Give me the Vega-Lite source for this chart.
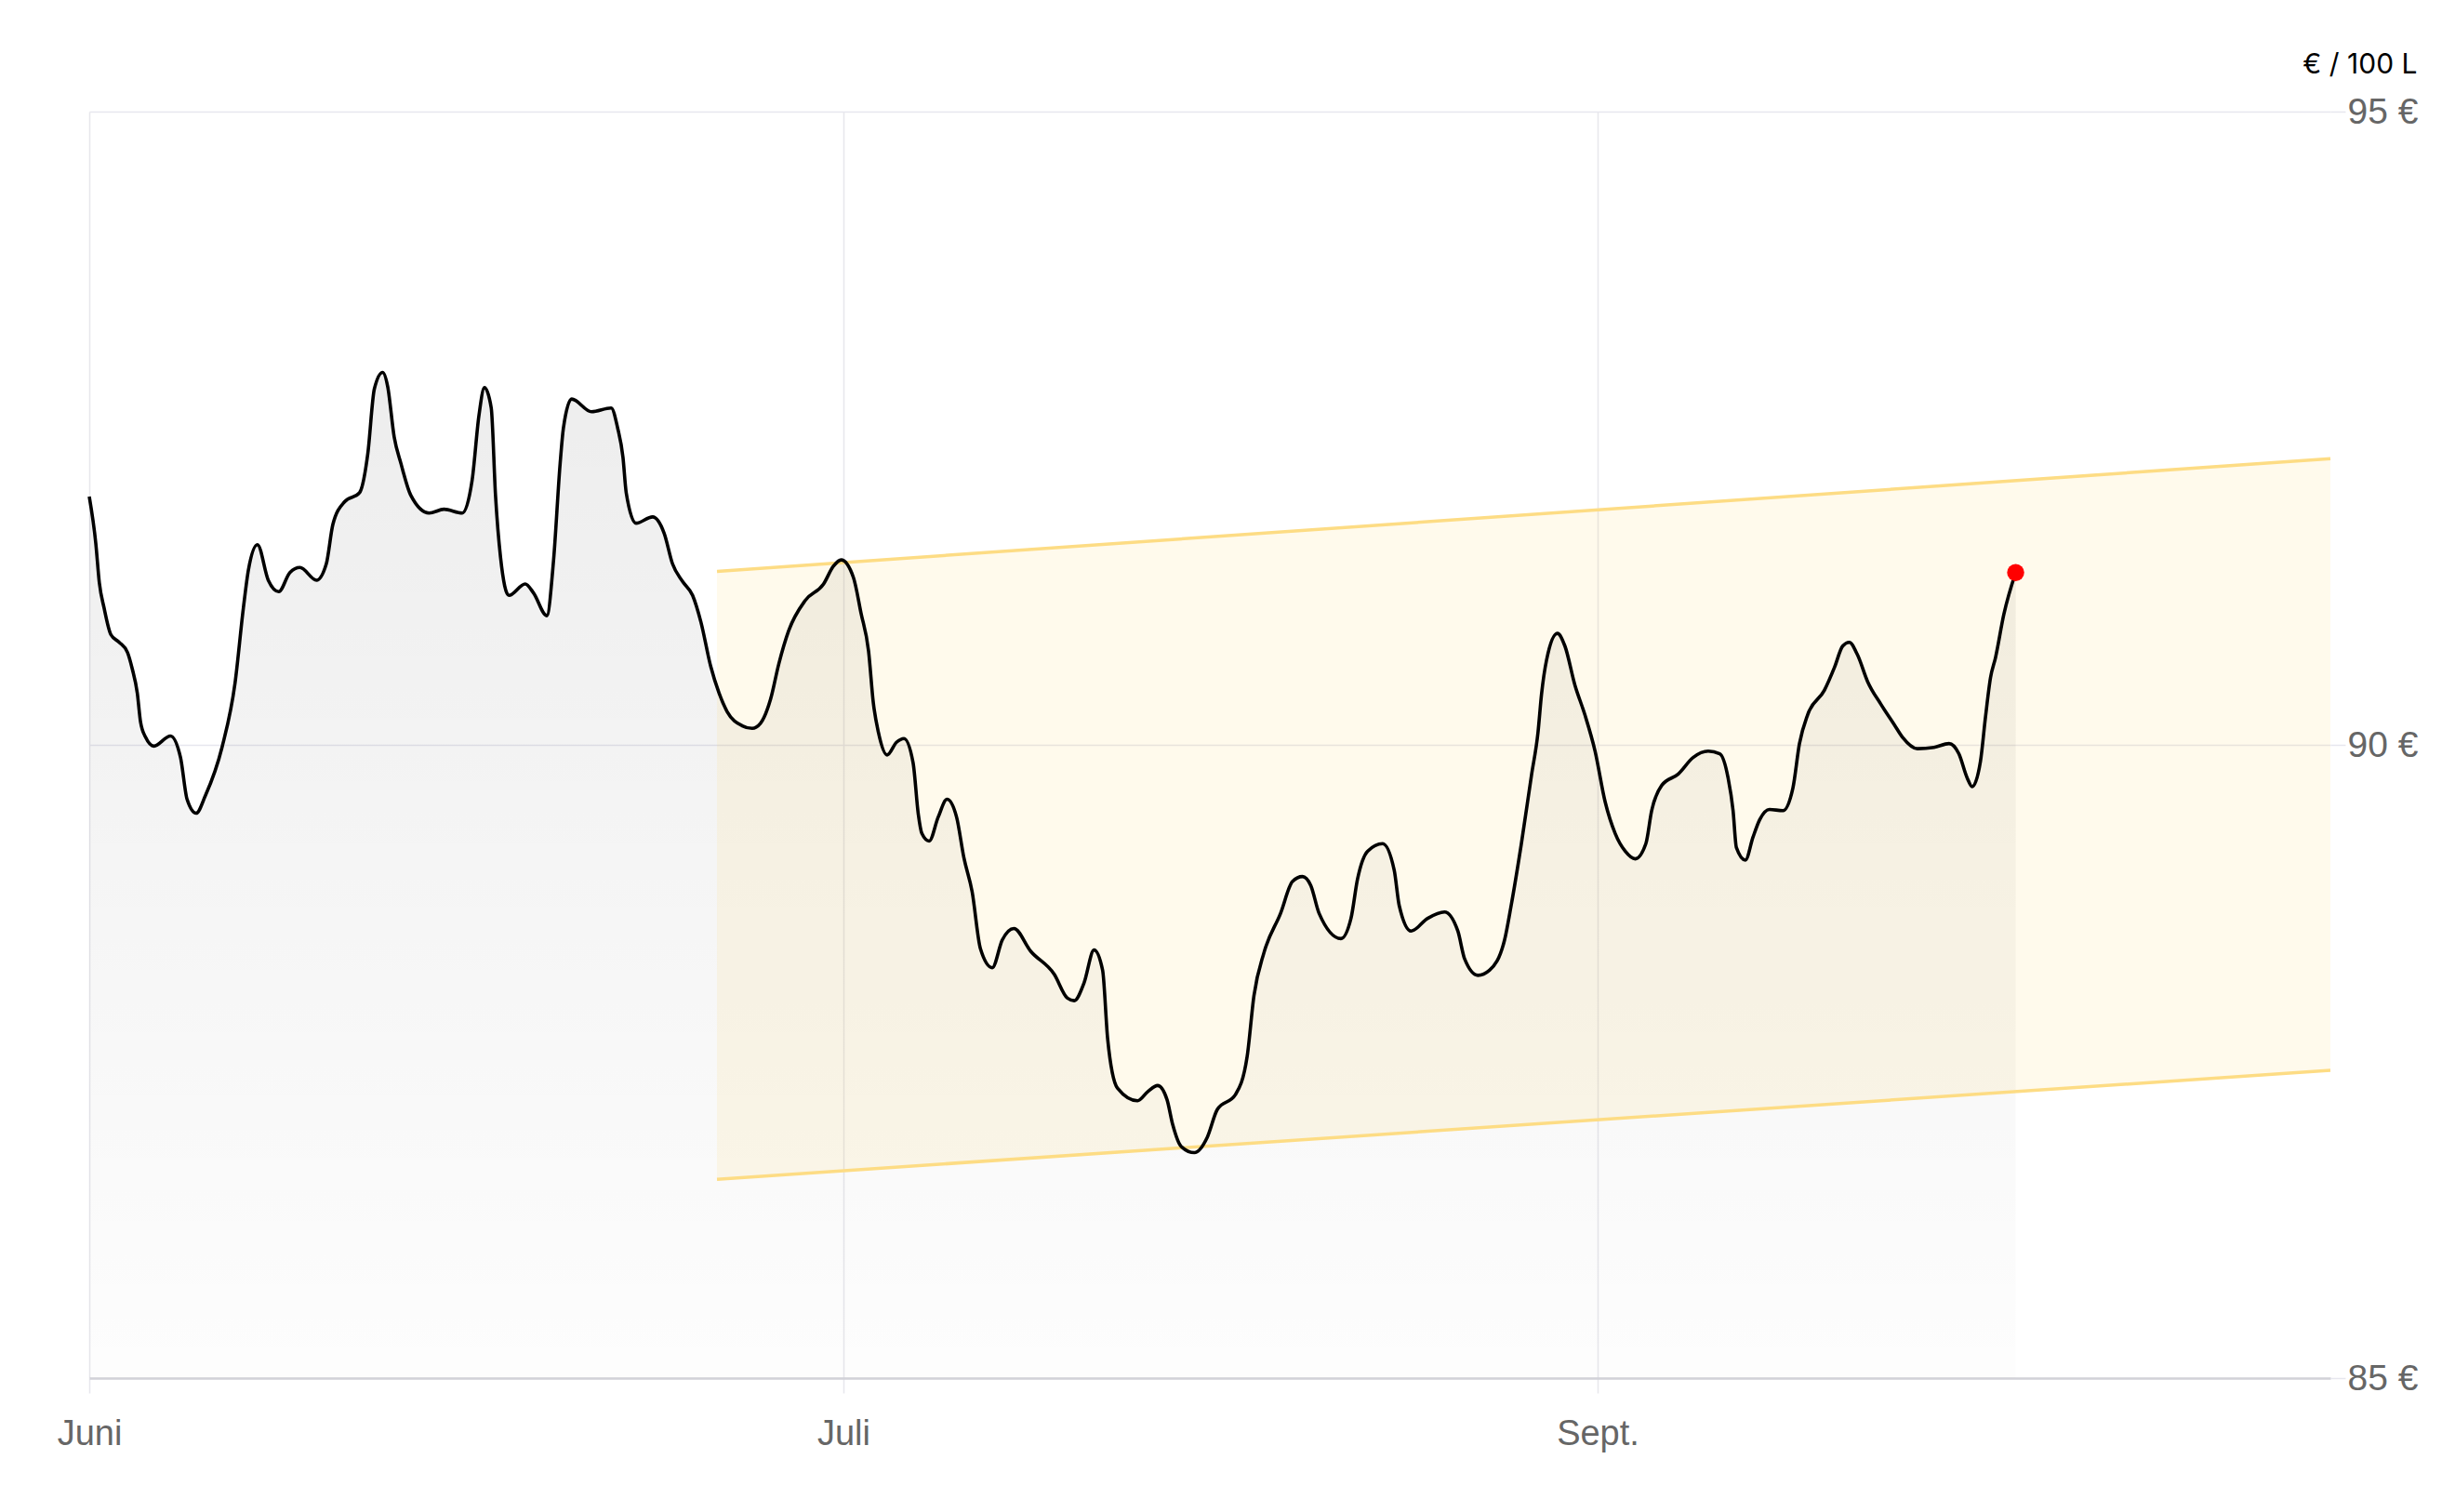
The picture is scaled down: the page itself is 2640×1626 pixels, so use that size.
{
  "$schema": "https://vega.github.io/schema/vega-lite/v6.json",
  "width": 2410,
  "height": 1362,
  "autosize": {"type": "none"},
  "padding": {"left": 96, "top": 120, "right": 134, "bottom": 144},
  "background": "white",
  "config": {"view": {"stroke": null}},
  "datasets": {
    "price": [
      {"t": 0, "v": 91.96}, {"t": 0.26, "v": 91.59}, {"t": 0.4, "v": 91.28}, {"t": 0.59, "v": 91.08},
      {"t": 0.86, "v": 90.87}, {"t": 1.19, "v": 90.81}, {"t": 1.52, "v": 90.73}, {"t": 1.71, "v": 90.6},
      {"t": 1.91, "v": 90.41}, {"t": 2.04, "v": 90.18}, {"t": 2.24, "v": 90.06}, {"t": 2.57, "v": 89.99},
      {"t": 3.23, "v": 90.07}, {"t": 3.63, "v": 89.9}, {"t": 3.89, "v": 89.57}, {"t": 4.25, "v": 89.46},
      {"t": 4.62, "v": 89.6}, {"t": 5.28, "v": 89.98}, {"t": 5.8, "v": 90.49}, {"t": 6.13, "v": 91.08},
      {"t": 6.33, "v": 91.38}, {"t": 6.69, "v": 91.58}, {"t": 7.12, "v": 91.3}, {"t": 7.54, "v": 91.21},
      {"t": 7.98, "v": 91.36}, {"t": 8.38, "v": 91.4}, {"t": 9.04, "v": 91.3}, {"t": 9.43, "v": 91.43},
      {"t": 9.69, "v": 91.74}, {"t": 10.16, "v": 91.92}, {"t": 10.75, "v": 91.99}, {"t": 11.08, "v": 92.3},
      {"t": 11.34, "v": 92.81}, {"t": 11.67, "v": 92.94}, {"t": 11.87, "v": 92.83}, {"t": 12.13, "v": 92.43},
      {"t": 12.4, "v": 92.22}, {"t": 12.79, "v": 91.97}, {"t": 13.52, "v": 91.83}, {"t": 14.11, "v": 91.86},
      {"t": 14.84, "v": 91.83}, {"t": 15.23, "v": 92.09}, {"t": 15.5, "v": 92.6}, {"t": 15.72, "v": 92.82},
      {"t": 15.99, "v": 92.66}, {"t": 16.16, "v": 91.97}, {"t": 16.36, "v": 91.48}, {"t": 16.69, "v": 91.18},
      {"t": 17.34, "v": 91.27}, {"t": 17.67, "v": 91.2}, {"t": 18.2, "v": 91.02}, {"t": 18.47, "v": 91.46},
      {"t": 18.73, "v": 92.22}, {"t": 18.86, "v": 92.5}, {"t": 19.19, "v": 92.73}, {"t": 19.98, "v": 92.63},
      {"t": 20.76, "v": 92.66}, {"t": 21.02, "v": 92.5}, {"t": 21.23, "v": 92.27}, {"t": 21.36, "v": 91.99},
      {"t": 21.75, "v": 91.75}, {"t": 22.41, "v": 91.8}, {"t": 22.87, "v": 91.67}, {"t": 23.2, "v": 91.43},
      {"t": 23.6, "v": 91.29}, {"t": 24.0, "v": 91.18}, {"t": 24.33, "v": 90.97}, {"t": 24.72, "v": 90.62},
      {"t": 25.05, "v": 90.41}, {"t": 25.38, "v": 90.26}, {"t": 25.98, "v": 90.15}, {"t": 26.37, "v": 90.13},
      {"t": 26.7, "v": 90.17}, {"t": 27.1, "v": 90.36}, {"t": 27.43, "v": 90.64}, {"t": 27.82, "v": 90.9},
      {"t": 28.48, "v": 91.14}, {"t": 29.21, "v": 91.27}, {"t": 29.6, "v": 91.41}, {"t": 29.91, "v": 91.46},
      {"t": 30.4, "v": 91.32}, {"t": 30.7, "v": 91.04}, {"t": 31.0, "v": 90.74}, {"t": 31.19, "v": 90.33},
      {"t": 31.39, "v": 90.1}, {"t": 31.74, "v": 89.92}, {"t": 32.11, "v": 90.02}, {"t": 32.41, "v": 90.05},
      {"t": 32.77, "v": 89.86}, {"t": 32.98, "v": 89.45}, {"t": 33.12, "v": 89.3}, {"t": 33.41, "v": 89.24},
      {"t": 33.77, "v": 89.43}, {"t": 34.12, "v": 89.57}, {"t": 34.5, "v": 89.43}, {"t": 34.79, "v": 89.11},
      {"t": 35.12, "v": 88.84}, {"t": 35.45, "v": 88.39}, {"t": 35.92, "v": 88.24}, {"t": 36.32, "v": 88.46},
      {"t": 36.78, "v": 88.55}, {"t": 37.45, "v": 88.37}, {"t": 38.38, "v": 88.19}, {"t": 38.91, "v": 88.0},
      {"t": 39.18, "v": 87.98}, {"t": 39.57, "v": 88.12}, {"t": 39.97, "v": 88.38}, {"t": 40.31, "v": 88.22},
      {"t": 40.51, "v": 87.68}, {"t": 40.9, "v": 87.29}, {"t": 41.7, "v": 87.19}, {"t": 42.1, "v": 87.26},
      {"t": 42.5, "v": 87.31}, {"t": 42.87, "v": 87.2}, {"t": 43.1, "v": 87.0}, {"t": 43.43, "v": 86.83},
      {"t": 43.96, "v": 86.78}, {"t": 44.47, "v": 86.9}, {"t": 44.87, "v": 87.12}, {"t": 45.6, "v": 87.24},
      {"t": 46.06, "v": 87.54}, {"t": 46.33, "v": 88.02}, {"t": 46.73, "v": 88.36}, {"t": 47.39, "v": 88.67},
      {"t": 47.86, "v": 88.92}, {"t": 48.26, "v": 88.96}, {"t": 48.59, "v": 88.89}, {"t": 48.92, "v": 88.67},
      {"t": 49.79, "v": 88.47}, {"t": 50.19, "v": 88.63}, {"t": 50.45, "v": 88.94}, {"t": 50.85, "v": 89.16},
      {"t": 51.45, "v": 89.22}, {"t": 51.91, "v": 89.01}, {"t": 52.11, "v": 88.73}, {"t": 52.58, "v": 88.53},
      {"t": 53.24, "v": 88.63}, {"t": 53.91, "v": 88.68}, {"t": 54.44, "v": 88.53}, {"t": 54.71, "v": 88.31},
      {"t": 55.24, "v": 88.18}, {"t": 55.7, "v": 88.22}, {"t": 56.3, "v": 88.46}, {"t": 56.56, "v": 88.73},
      {"t": 56.96, "v": 89.21}, {"t": 57.37, "v": 89.76}, {"t": 57.63, "v": 90.1}, {"t": 57.77, "v": 90.4},
      {"t": 57.97, "v": 90.67}, {"t": 58.4, "v": 90.88}, {"t": 58.7, "v": 90.78}, {"t": 59.1, "v": 90.47},
      {"t": 59.49, "v": 90.24}, {"t": 59.9, "v": 89.95}, {"t": 60.3, "v": 89.55}, {"t": 60.7, "v": 89.3},
      {"t": 61.1, "v": 89.16}, {"t": 61.5, "v": 89.1}, {"t": 61.92, "v": 89.22}, {"t": 62.15, "v": 89.48},
      {"t": 62.55, "v": 89.68}, {"t": 63.21, "v": 89.77}, {"t": 63.8, "v": 89.9}, {"t": 64.4, "v": 89.95},
      {"t": 64.86, "v": 89.93}, {"t": 65.19, "v": 89.74}, {"t": 65.39, "v": 89.48}, {"t": 65.52, "v": 89.19},
      {"t": 65.88, "v": 89.09}, {"t": 66.18, "v": 89.27}, {"t": 66.45, "v": 89.41}, {"t": 66.84, "v": 89.49},
      {"t": 67.37, "v": 89.48}, {"t": 67.77, "v": 89.66}, {"t": 68.03, "v": 90.01}, {"t": 68.36, "v": 90.24},
      {"t": 69.02, "v": 90.43}, {"t": 69.42, "v": 90.61}, {"t": 69.75, "v": 90.78}, {"t": 70.01, "v": 90.81},
      {"t": 70.34, "v": 90.71}, {"t": 70.74, "v": 90.5}, {"t": 71.27, "v": 90.32}, {"t": 71.8, "v": 90.16},
      {"t": 72.13, "v": 90.06}, {"t": 72.72, "v": 89.97}, {"t": 73.38, "v": 89.98}, {"t": 73.98, "v": 90.01},
      {"t": 74.37, "v": 89.93}, {"t": 74.7, "v": 89.74}, {"t": 74.9, "v": 89.67}, {"t": 75.23, "v": 89.87},
      {"t": 75.43, "v": 90.22}, {"t": 75.63, "v": 90.53}, {"t": 75.83, "v": 90.69}, {"t": 76.16, "v": 91.03},
      {"t": 76.63, "v": 91.36}
    ],
    "last": [{"t": 76.63, "v": 91.36}],
    "band": [
      {"t": 24.97, "lo": 86.57, "hi": 91.37},
      {"t": 89.15, "lo": 87.43, "hi": 92.26}
    ]
  },
  "layer": [
    {
      "data": {"name": "price"},
      "mark": {
        "type": "area",
        "interpolate": "monotone",
        "clip": false,
        "color": {
          "gradient": "linear", "x1": 0, "y1": 0, "x2": 0, "y2": 1,
          "stops": [
            {"offset": 0, "color": "rgba(0,0,0,0.072)"},
            {"offset": 1, "color": "rgba(0,0,0,0.008)"}
          ]
        }
      },
      "encoding": {
        "x": {
          "field": "t", "type": "quantitative",
          "scale": {"domain": [0, 89.15], "nice": false, "zero": false},
          "axis": {
            "values": [0, 30, 60],
            "labelExpr": "datum.value == 0 ? 'Juni' : (datum.value == 30 ? 'Juli' : 'Sept.')",
            "title": null,
            "grid": true,
            "gridColor": "#e7e7ec",
            "gridWidth": 1.5,
            "domain": true,
            "domainColor": "#d2d2d8",
            "domainWidth": 2.5,
            "ticks": true,
            "tickColor": "#e7e7ec",
            "tickWidth": 1.5,
            "tickSize": 16,
            "labelFont": "Liberation Sans",
            "labelFontSize": 38,
            "labelColor": "#666666",
            "labelBaseline": "alphabetic",
            "labelPadding": 55,
            "labelFlush": false,
            "labelOverlap": false,
            "labelBound": false
          }
        },
        "y": {
          "field": "v", "type": "quantitative",
          "scale": {"domain": [85, 95], "nice": false, "zero": false},
          "axis": {
            "orient": "right",
            "values": [85, 90, 95],
            "labelExpr": "datum.value + ' €'",
            "grid": true,
            "gridColor": "#e7e7ee",
            "gridWidth": 1.5,
            "domain": false,
            "ticks": true,
            "tickColor": "#e7e7ee",
            "tickWidth": 1.5,
            "tickSize": 16,
            "labelFont": "Liberation Sans",
            "labelFontSize": 39,
            "labelColor": "#666666",
            "labelAlign": "left",
            "labelPadding": 2,
            "labelOverlap": false,
            "labelBound": false,
            "title": "€ / 100 L",
            "titleAngle": 0,
            "titleX": 93,
            "titleY": -42,
            "titleAlign": "right",
            "titleBaseline": "alphabetic",
            "titleFont": "Inter",
            "titleFontSize": 30,
            "titleFontWeight": "normal",
            "titleColor": "#000000"
          }
        },
        "y2": {"datum": 85}
      }
    },
    {
      "data": {"name": "band"},
      "mark": {"type": "area", "color": "#ffcf40", "opacity": 0.1, "clip": false},
      "encoding": {
        "x": {"field": "t", "type": "quantitative", "scale": {"domain": [0, 89.15], "nice": false, "zero": false}},
        "y": {"field": "lo", "type": "quantitative", "scale": {"domain": [85, 95], "nice": false, "zero": false}},
        "y2": {"field": "hi"}
      }
    },
    {
      "data": {"name": "band"},
      "mark": {"type": "line", "color": "#fddc84", "strokeWidth": 3.5, "clip": false},
      "encoding": {
        "x": {"field": "t", "type": "quantitative"},
        "y": {"field": "lo", "type": "quantitative"}
      }
    },
    {
      "data": {"name": "band"},
      "mark": {"type": "line", "color": "#fddc84", "strokeWidth": 3.5, "clip": false},
      "encoding": {
        "x": {"field": "t", "type": "quantitative"},
        "y": {"field": "hi", "type": "quantitative"}
      }
    },
    {
      "data": {"name": "price"},
      "mark": {"type": "line", "interpolate": "monotone", "color": "#000000", "strokeWidth": 3.6, "clip": false},
      "encoding": {
        "x": {"field": "t", "type": "quantitative"},
        "y": {"field": "v", "type": "quantitative"}
      }
    },
    {
      "data": {"name": "last"},
      "mark": {"type": "point", "filled": true, "color": "#ff0000", "opacity": 1, "size": 340, "shape": "circle", "clip": false},
      "encoding": {
        "x": {"field": "t", "type": "quantitative"},
        "y": {"field": "v", "type": "quantitative"}
      }
    }
  ]
}
